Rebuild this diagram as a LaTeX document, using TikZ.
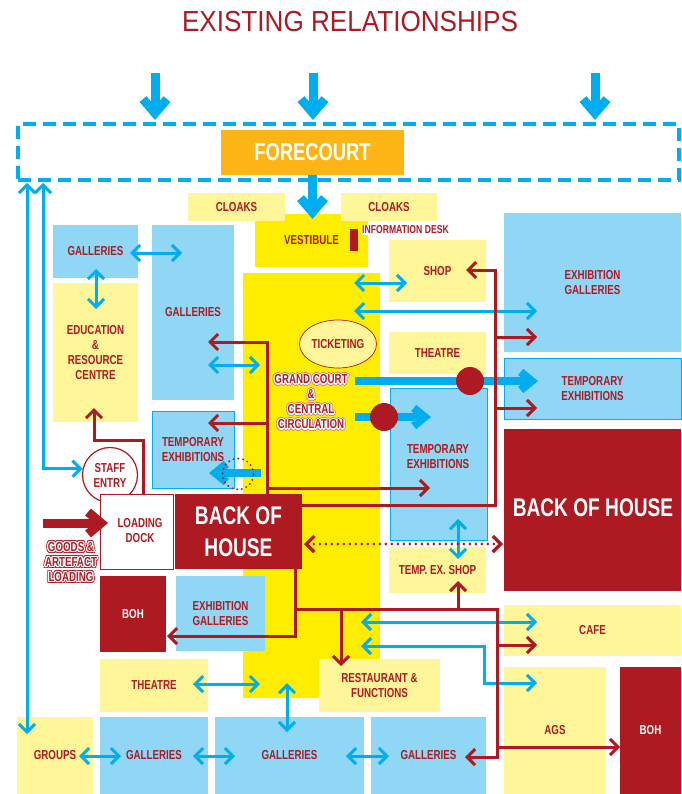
\documentclass[tikz,border=0pt]{standalone}
\usepackage{fontspec}
\setmainfont{Liberation Sans}[FakeStretch=0.75]
\newfontfamily\titlefont{Liberation Sans}[FakeStretch=0.9]
\usepackage{tikz}
\usetikzlibrary{arrows.meta, shapes.geometric}

\definecolor{plred}{HTML}{AD1A21}
\definecolor{plcyan}{HTML}{00AEEF}
\definecolor{plblue}{HTML}{8FD7F5}
\definecolor{plcream}{HTML}{FFF69A}
\definecolor{plyellow}{HTML}{FFED00}
\definecolor{plorange}{HTML}{FDB515}

\newcommand{\roomfont}{\bfseries\fontsize{13pt}{15pt}\selectfont}
\newcommand{\bigfont}{\bfseries\fontsize{25.5pt}{32pt}\selectfont}

% red text with a white halo and a thin outer rim
\newcommand{\halolabel}[4][plred]{%
  \foreach \hang in {0,45,...,315}
    \node[lbl, text=#1] at ([shift={(\hang:2.2pt)}]#3) {#4};
  \foreach \hang in {0,45,...,315}
    \node[lbl, text=white] at ([shift={(\hang:1.3pt)}]#3) {#4};
  \node[lbl] (#2) at (#3) {#4};
}

\begin{document}
\begin{tikzpicture}[
  x=1pt, y=-1pt,
  >={Straight Barb[sharp, length=8pt, width=16pt]},
  room/.style={rectangle, anchor=north west, inner sep=0pt, outer sep=0pt,
    text=plred, font=\roomfont, align=center},
  dims/.style 2 args={minimum width=#1pt, minimum height=#2pt},
  gallery/.style={room, fill=plblue},
  amenity/.style={room, fill=plcream},
  core/.style={room, fill=plyellow},
  service/.style={room, fill=plred, text=white},
  temp/.style={gallery, draw=plcyan, line width=0.8pt},
  zone/.style={rectangle, anchor=north west, inner sep=0pt, outer sep=0pt,
    draw=plcyan, line width=4pt, dash pattern=on 13pt off 7pt},
  lbl/.style={text=plred, font=\roomfont, align=center, inner sep=0pt},
  flow/.style={<->, plcyan, line width=3pt},
  feed/.style={->, plred, line width=3pt},
  backlink/.style={<->, plred, line width=3.2pt, line cap=round,
    dash pattern=on 0pt off 6pt},
  entry/.style={-{Straight Barb[sharp, length=14pt, width=24pt]},
    plcyan, line width=9pt},
  push/.style={-{Straight Barb[sharp, length=11pt, width=18pt]},
    plcyan, line width=8pt},
  haul/.style={-{Straight Barb[sharp, length=13pt, width=22pt]},
    plred, line width=9pt},
  hub/.style={circle, fill=plred, minimum size=28pt, inner sep=0pt},
]
\useasboundingbox (0,0) rectangle (681,794);

% Title
\node[text=plred, font=\titlefont\fontsize{29pt}{31pt}\selectfont] (title)
  at (350,22) {EXISTING RELATIONSHIPS};

% Forecourt
\node[zone, dims={661}{56}] (forearea) at (18,124) {};
\node[room, fill=plorange, text=white,
  font=\bfseries\fontsize{24.5pt}{28pt}\selectfont, dims={183}{45}]
  (forecourt) at (221,130) {FORECOURT};

% Grand court (drawn first, rooms sit on it)
\node[core, dims={137}{425}] (court) at (243,273) {};

% Entrance
\node[core, dims={113}{53}] (vest) at (255,214) {VESTIBULE};
\node[amenity, dims={97}{28}] (cloaksl) at (188,193) {CLOAKS};
\node[amenity, dims={96}{28}] (cloaksr) at (341,193) {CLOAKS};
\node[room, fill=plred, dims={8}{22}] (desk) at (350,229) {};
\node[lbl, anchor=west, fill=white, inner sep=1pt,
  font=\bfseries\fontsize{11.5pt}{13pt}\selectfont] (desklbl)
  at (361,230) {INFORMATION DESK};
\node[ellipse, draw=plred, line width=0.7pt, fill=plcream, text=plred,
  font=\roomfont, minimum width=77pt, minimum height=48pt, inner sep=0pt]
  (ticket) at (338,344) {TICKETING};
\halolabel[plred!55]{courtlbl}{311,402}{GRAND COURT\\\&\\CENTRAL\\CIRCULATION}

% West wing
\node[gallery, dims={85}{53}] (galtop) at (53,225) {GALLERIES};
\node[amenity, dims={85}{139}] (edu) at (53,283)
  {EDUCATION\\\&\\RESOURCE\\CENTRE};
\node[gallery, dims={82}{175}] (galtall) at (152,225) {GALLERIES};
\node[temp, dims={82}{77}] (templ) at (152,411) {TEMPORARY\\EXHIBITIONS};
\node[circle, draw=plred, line width=1.2pt, fill=white, text=plred,
  font=\roomfont, align=center, minimum size=55pt, inner sep=0pt]
  (staff) at (110,475) {STAFF\\ENTRY};

% Service yard
\node[room, fill=white, draw=plred, line width=0.8pt, dims={73}{75}]
  (dock) at (100,494) {};
\node[lbl] (docklbl) at (140,531) {LOADING\\DOCK};
\node[service, font=\bigfont, dims={127}{75}] (bohl) at (175,494)
  {BACK OF\\HOUSE};
\halolabel{goodslbl}{71,562}{GOODS \&\\ARTEFACT\\LOADING}
\node[service, dims={66}{76}] (bohs) at (100,576) {BOH};
\node[gallery, dims={89}{75}] (exgl) at (176,576) {EXHIBITION\\GALLERIES};

% South row
\node[amenity, dims={108}{53}] (theatrel) at (100,659) {THEATRE};
\node[amenity, dims={121}{53}] (rest) at (319,659) {RESTAURANT \&\\FUNCTIONS};
\node[amenity, dims={76}{77}] (groups) at (17,717) {GROUPS};
\node[gallery, dims={108}{77}] (gal1) at (100,717) {GALLERIES};
\node[gallery, dims={149}{77}] (gal2) at (215,717) {GALLERIES};
\node[gallery, dims={115}{77}] (gal3) at (371,717) {GALLERIES};

% East wing
\node[amenity, dims={97}{62}] (shop) at (389,240) {SHOP};
\node[gallery, dims={177}{139}] (exgal) at (504,213) {EXHIBITION\\GALLERIES};
\node[amenity, dims={97}{42}] (theatre) at (389,332) {THEATRE};
\node[temp, dims={177}{61}] (tempr) at (504,358) {TEMPORARY\\EXHIBITIONS};
\node[temp, dims={97}{152}] (tempm) at (390,388) {};
\node[lbl] (tempmlbl) at (438,457) {TEMPORARY\\EXHIBITIONS};
\node[service, font=\bigfont, dims={177}{162}] (bohr) at (504,429) {};
\node[text=white, font=\bigfont, inner sep=0pt] (bohrlbl) at (593,508)
  {BACK OF HOUSE};
\node[amenity, dims={97}{46}] (texshop) at (389,547) {TEMP. EX. SHOP};
\node[amenity, dims={177}{51}] (cafe) at (504,605) {CAFE};
\node[amenity, dims={102}{127}] (ags) at (504,667) {AGS};
\node[service, dims={61}{127}] (bohbr) at (620,667) {BOH};

% Arrivals into the forecourt
\foreach \ex [count=\i] in {155,313,595} {
  \coordinate (gate\i) at (\ex,73);
  \draw[entry] (gate\i) -- ([yshift=4pt]gate\i |- forearea.north);
}
\draw[entry] (forecourt.south) -- ([yshift=-5pt]forecourt.south |- vest.north);

% Public links
\coordinate (galtop-r) at (130,253);  \coordinate (galtall-l) at (182,253);
\coordinate (galtop-b) at (96,269);   \coordinate (edu-t) at (96,309);
\coordinate (galtall-r) at (208,365); \coordinate (court-w1) at (260,365);
\coordinate (court-e1) at (354,283);  \coordinate (shop-l) at (407,283);
\coordinate (court-e2) at (354,311);  \coordinate (exgal-l) at (537,311);
\coordinate (theatrel-r) at (193,684);\coordinate (court-w2) at (260,684);
\coordinate (court-s) at (287,683);   \coordinate (gal2-t) at (287,732);
\coordinate (groups-r) at (79,756);   \coordinate (gal1-l) at (121,756);
\coordinate (gal1-r) at (193,756);    \coordinate (gal2-l) at (235,756);
\coordinate (gal2-r) at (346,756);    \coordinate (gal3-l) at (389,756);
\coordinate (court-e3) at (361,622);  \coordinate (cafe-l) at (537,622);
\coordinate (court-e4) at (361,646);  \coordinate (ags-bend) at (484,665);
\coordinate (ags-l) at (537,683);
\coordinate (tempm-b) at (458,519);   \coordinate (texshop-t) at (458,559);
\coordinate (zone-w1) at (27,183);    \coordinate (groups-t) at (27,734);
\coordinate (zone-w2) at (43,183);

\draw[flow] (galtop-r) -- (galtall-l);
\draw[flow] (galtop-b) -- (edu-t);
\draw[flow] (galtall-r) -- (court-w1);
\draw[flow] (court-e1) -- (shop-l);
\draw[flow] (court-e2) -- (exgal-l);
\draw[flow] (theatrel-r) -- (court-w2);
\draw[flow] (court-s) -- (gal2-t);
\draw[flow] (groups-r) -- (gal1-l);
\draw[flow] (gal1-r) -- (gal2-l);
\draw[flow] (gal2-r) -- (gal3-l);
\draw[flow] (court-e3) -- (cafe-l);
\draw[flow] (court-e4) -| (ags-bend) |- (ags-l);
\draw[flow] (tempm-b) -- (texshop-t);
\draw[flow] (zone-w1) -- (groups-t);
\draw[flow] (zone-w2) |- (staff.167);

% Main visitor push from the grand court
\coordinate (court-e5) at (355,381); \coordinate (tempr-l) at (538,381);
\coordinate (court-e6) at (355,417); \coordinate (tempm-l) at (431,417);
\coordinate (court-w3) at (261,473); \coordinate (templ-r) at (209,473);
\draw[push] (court-e5) -- (tempr-l);
\draw[push] (court-e6) -- (tempm-l);
\draw[push] (court-w3) -- (templ-r);
\node[hub] (hub1) at (470,381) {};
\node[hub] (hub2) at (384,417) {};
\node[circle, draw=plred, line width=2.2pt, line cap=round,
  dash pattern=on 0pt off 4.8pt, minimum size=31pt, inner sep=0pt]
  (ring) at (238,474) {};

% Back of house service runs
\coordinate (bohl-t) at (267,494);   \coordinate (galtall-r2) at (208,342);
\coordinate (templ-r2) at (208,423); \coordinate (tempm-l2) at (430,488);
\draw[feed] (bohl-t) |- (galtall-r2);
\draw[feed] (templ-r2 -| bohl-t) -- (templ-r2);
\draw[feed] (tempm-l2 -| bohl-t) -- (tempm-l2);

\coordinate (bohl-e) at (302,505);   \coordinate (spine1) at (495,400);
\coordinate (shop-r) at (466,270);   \coordinate (exgal-l2) at (537,337);
\coordinate (tempr-l2) at (537,408);
\draw[feed] (bohl-e) -| (spine1) |- (shop-r);
\draw[feed] (exgal-l2 -| spine1) -- (exgal-l2);
\draw[feed] (tempr-l2 -| spine1) -- (tempr-l2);

\coordinate (bohl-b) at (295,569);   \coordinate (bohs-r) at (167,636);
\coordinate (split) at (295,609);    \coordinate (spine2) at (497,700);
\coordinate (gal3-r) at (465,757);   \coordinate (rest-t) at (341,666);
\coordinate (texshop-b) at (458,581);\coordinate (cafe-l2) at (537,645);
\coordinate (bohbr-l) at (620,747);
\draw[feed] (bohl-b) |- (bohs-r);
\draw[feed] (split) -| (spine2) |- (gal3-r);
\draw[feed] (rest-t |- split) -- (rest-t);
\draw[feed] (texshop-b |- split) -- (texshop-b);
\draw[feed] (cafe-l2 -| spine2) -- (cafe-l2);
\draw[feed] (bohbr-l -| spine2) -- (bohbr-l);

\coordinate (dock-t) at (143,494);   \coordinate (edu-bend) at (120,440);
\coordinate (edu-b) at (94,408);
\draw[feed] (dock-t) |- (edu-bend) -| (edu-b);

\coordinate (bohl-e2) at (304,544);  \coordinate (bohr-w) at (503,544);
\draw[backlink] (bohl-e2) -- (bohr-w);

\coordinate (goods-in) at (43,523);  \coordinate (dock-l) at (108,523);
\draw[haul] (goods-in) -- (dock-l);

\end{tikzpicture}
\end{document}
